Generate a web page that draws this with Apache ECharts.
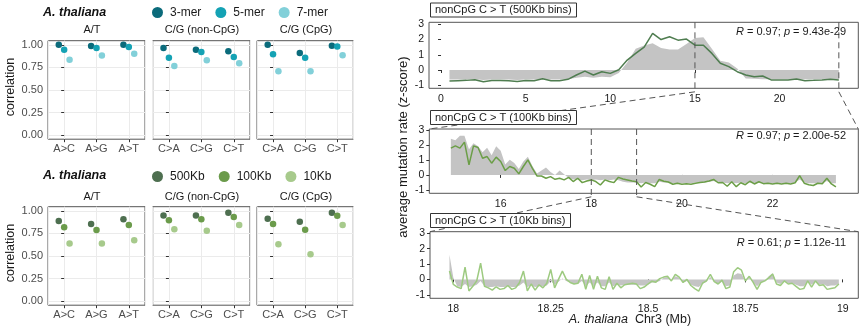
<!DOCTYPE html>
<html><head><meta charset="utf-8">
<script src="https://cdn.jsdelivr.net/npm/echarts@6/dist/echarts.min.js"></script>
<style>html,body{margin:0;padding:0;background:#fff}#c{width:865px;height:331px}</style>
</head><body><div id="c"></div>
<script>
const FONT = '"Liberation Sans", Arial, sans-serif';

// ---------- left: correlation panels ----------
const facets = ['A/T', 'C/G (non-CpG)', 'C/G (CpG)'];
const facetCats = [['A>C', 'A>G', 'A>T'], ['C>A', 'C>G', 'C>T'], ['C>A', 'C>G', 'C>T']];
const corrTicks = [0, 0.25, 0.5, 0.75, 1];

const kmerNames = ['3-mer', '5-mer', '7-mer'];
const mer3 = [[1.00, 0.985, 1.00], [0.963, 0.945, 0.927], [1.00, 0.908, 0.99]];
const mer5 = [[0.945, 0.965, 0.975], [0.857, 0.92, 0.865], [0.894, 0.857, 0.98]];
const mer7 = [[0.835, 0.88, 0.90], [0.765, 0.83, 0.795], [0.707, 0.707, 0.883]];

const binNames = ['500Kb', '100Kb', '10Kb'];
const bin500 = [[0.886, 0.853, 0.905], [0.949, 0.949, 0.978], [0.912, 0.879, 0.978]];
const bin100 = [[0.817, 0.787, 0.842], [0.894, 0.905, 0.93], [0.853, 0.79, 0.945]];
const bin10 = [[0.637, 0.637, 0.674], [0.795, 0.78, 0.842], [0.63, 0.52, 0.842]];

// ---------- right: mutation-rate tracks ----------
const ticks500 = [0, 5, 10, 15, 20];
const ticks100 = [16, 18, 20, 22];
const ticks10 = [18, 18.25, 18.5, 18.75, 19];
const zTicks = [-1, 0, 1, 2, 3];

const start500 = 0.5, step500 = 0.5;
const line500 = [-0.72,-0.70,-0.68,-0.64,-0.77,-0.69,-0.69,-0.70,-0.75,-0.69,-0.70,-0.57,-0.70,-0.70,-0.61,-0.33,-0.07,-0.33,-0.11,-0.22,0.02,0.65,1.09,1.5,2.4,2.0,2.18,1.96,2.03,1.63,1.63,1.09,0.44,0.22,-0.11,-0.33,-0.44,-0.39,-0.65,-0.65,-0.65,-0.59,-0.70,-0.68,-0.65,-0.61,-0.65];
const gray500 = [-0.62,-0.63,-0.62,-0.6,-0.65,-0.62,-0.62,-0.63,-0.65,-0.62,-0.63,-0.6,-0.63,-0.62,-0.6,-0.5,-0.45,-0.5,-0.45,-0.48,-0.2,0.5,1.4,1.6,1.75,1.45,1.35,1.35,1.7,2.1,2.15,1.4,0.6,0.5,0.1,-0.55,-0.58,-0.6,-0.6,-0.6,-0.6,-0.6,-0.6,-0.6,-0.6,-0.6,-0.6];

const start100 = 14.9, step100 = 0.1;
const line100 = [1.78,1.93,1.78,2.18,0.67,1.93,1.82,1.11,1.22,0.78,1.18,0.89,0.29,0.56,0.44,0.07,0.56,1.0,0.44,-0.07,-0.07,-0.22,-0.11,-0.29,-0.22,-0.33,-0.16,-0.44,-0.22,-0.51,-0.4,-0.33,-0.44,-0.67,-0.33,-0.44,-0.51,-0.16,
  -0.27,-0.33,-0.4,-0.45,-0.8,-0.5,-0.62,-0.78,-0.3,-0.42,-0.47,-0.62,-0.55,-0.62,-0.58,-0.62,-0.55,-0.5,-0.47,-0.4,-0.3,-0.52,-0.5,-0.75,-0.45,-0.78,-0.52,-0.65,-0.42,-0.6,-0.45,-0.58,-0.55,-0.6,-0.55,-0.6,-0.55,-0.6,-0.52,-0.05,-0.55,-0.65,-0.7,-0.55,-0.58,-0.22,-0.6,-0.8];
const gray100 = [2.4,2.3,2.6,2.6,1.7,2.1,1.9,1.5,1.8,1.3,1.9,1.6,0.7,1.0,0.8,0.4,0.9,1.2,0.6,0.1,0.3,0.5,0.2,0.0,0.3,0.05,-0.2,-0.3,-0.3,-0.35,-0.3,-0.35,-0.3,-0.35,-0.3,-0.35,-0.3,-0.35,
  -0.45,-0.5,-0.5,-0.5,-0.55,-0.5,-0.55,-0.55,-0.45,-0.5,-0.5,-0.55,-0.55,-0.55,-0.55,-0.55,-0.5,-0.5,-0.5,-0.45,-0.4,-0.5,-0.5,-0.55,-0.5,-0.55,-0.5,-0.55,-0.5,-0.55,-0.5,-0.55,-0.55,-0.55,-0.55,-0.55,-0.55,-0.55,-0.5,-0.3,-0.5,-0.55,-0.55,-0.55,-0.55,-0.4,-0.55,-0.55];

const start10 = 17.99, step10 = 0.01;
const line10 = [0.54,-0.33,-0.5,-0.6,0.8,-0.75,-0.45,-0.1,1.05,-0.45,-0.55,-0.7,-0.48,-0.65,-0.6,-0.4,-0.65,-0.55,-0.2,0.54,-0.75,-0.3,-0.7,-0.35,-0.55,-0.25,0.65,-0.55,0.0,0.54,0.0,-0.2,-0.3,-0.25,0.33,-0.65,0.25,-0.65,0.2,-0.55,-0.65,0.17,-0.65,-0.25,-0.55,-0.35,-0.3,
  -0.25,-0.3,-0.6,-0.5,-0.3,-0.12,-0.18,0.05,0.15,0.2,-0.1,0.33,0.15,-0.2,0.0,-0.4,-0.6,-0.76,-0.25,-0.1,0.33,-0.15,-0.3,-0.05,-0.6,-0.5,0.5,0.76,0.6,-0.1,0.2,-0.2,-0.65,-0.2,-0.1,0.1,0.35,-0.3,-0.4,-0.1,-0.3,-0.25,-0.45,-0.65,-0.6,-0.1,-0.5,-0.1,-0.4,-0.35,-0.65,-0.6,-0.55,-0.3];
const gray10 = [1.6,0.1,-0.45,-0.5,-0.3,-0.5,-0.45,-0.35,-0.1,-0.45,
  -0.5,-0.5,-0.45,-0.5,-0.5,-0.45,-0.5,-0.5,-0.4,-0.2,
  -0.5,-0.4,-0.5,-0.45,-0.45,-0.4,-0.1,-0.35,-0.15,0.05,
  -0.1,-0.2,-0.3,-0.3,-0.1,-0.45,-0.2,-0.45,-0.2,-0.45,
  -0.45,-0.2,-0.45,-0.35,-0.4,-0.35,-0.35,-0.35,-0.35,-0.4,
  -0.4,-0.35,-0.2,-0.2,-0.1,0.1,0.15,-0.05,0.2,0.1,
  -0.2,-0.1,-0.35,-0.45,-0.5,-0.3,-0.15,0.15,-0.15,-0.3,
  -0.15,-0.45,-0.4,0.25,0.4,0.35,-0.1,0.1,-0.2,-0.45,
  -0.2,-0.1,0.2,0.4,-0.2,-0.3,-0.1,-0.25,-0.25,-0.35,
  -0.45,-0.45,-0.15,-0.35,-0.15,-0.35,-0.3,-0.45,-0.4,-0.4,
  -0.3];

const boxLabels = ['nonCpG C > T (500Kb bins)', 'nonCpG C > T (100Kb bins)', 'nonCpG C > T (10Kb bins)'];
const statLabels = [['0.97', '9.43e-29'], ['0.97', '2.00e-52'], ['0.61', '1.12e-11']];
const zoom500 = [15, 23.5];
const zoom100 = [18, 19];

// ---------- styles / layout ----------
const kmerColors = ['#0b6b7b', '#14a2b4', '#82d0d9'];
const binColors = ['#4e6f50', '#6b9b4b', '#a7ca8c'];
const dodge = [-0.167, 0, 0.167];
const leftCols = [48, 152.7, 257];
const leftW = [97, 97.3, 96.3];
const rowTops = [40.7, 206.7];
const rowH = 98.5;

const grids = [], xAxes = [], yAxes = [], series = [];

const rows = [
  {names: kmerNames, vals: [mer3, mer5, mer7], colors: kmerColors},
  {names: binNames, vals: [bin500, bin100, bin10], colors: binColors}
];
rows.forEach((row, r) => {
  facets.forEach((fname, f) => {
    const g = grids.length;
    grids.push({left: leftCols[f], top: rowTops[r], width: leftW[f], height: rowH, show: true,
      backgroundColor: '#fff', borderColor: '#555', borderWidth: 1, outerBoundsMode: 'none', containLabel: false});
    xAxes.push({gridIndex: g, type: 'value', position: 'top', min: -0.5, max: 2.5, minInterval: 1, maxInterval: 1,
      axisLine: {show: false}, axisTick: {show: false}, axisLabel: {show: false},
      splitLine: {show: true, lineStyle: {color: '#ebebeb', width: 1}}});
    xAxes.push({gridIndex: g, type: 'category', position: 'bottom', data: facetCats[f], boundaryGap: true,
      axisLine: {show: false},
      axisTick: {show: true, alignWithLabel: true, interval: 0, length: 3, lineStyle: {color: '#333'}},
      axisLabel: {interval: 0, margin: 4, fontSize: 11, color: '#4d4d4d', fontFamily: FONT},
      splitLine: {show: false}});
    yAxes.push({gridIndex: g, type: 'value', min: -0.045, max: 1.045, minInterval: 0.25, maxInterval: 0.25,
      axisLine: {show: false},
      axisTick: {show: true, length: 3, customValues: corrTicks, lineStyle: {color: '#333'}},
      axisLabel: {show: f === 0, customValues: corrTicks, margin: 5, fontSize: 11, color: '#4d4d4d', fontFamily: FONT,
        formatter: v => Number(v).toFixed(2)},
      splitLine: {show: true, lineStyle: {color: '#ebebeb', width: 1}}});
    row.names.forEach((nm, s) => {
      series.push({type: 'scatter', name: nm, xAxisIndex: 2 * g, yAxisIndex: g, symbolSize: 6.5, z: 3,
        itemStyle: {color: row.colors[s], opacity: 1},
        data: row.vals[s][f].map((v, i) => [i + dodge[s], v])});
    });
  });
});

const rightPanels = [
  {rect: {left: 429, top: 22.3, width: 429.3, height: 66}, x: [-0.71, 24.65], xi: 5, xt: ticks500, y: [-1.2, 3.13],
    line: line500, gray: gray500, start: start500, step: step500, color: '#4f7d50', statY: 32},
  {rect: {left: 429.3, top: 129, width: 429, height: 64.3}, x: [14.424, 23.894], xi: 2, xt: ticks100, y: [-1.22, 3.05],
    line: line100, gray: gray100, start: start100, step: step100, color: '#6b9e47', statY: 136},
  {rect: {left: 430, top: 231.7, width: 428.3, height: 66.6}, x: [17.94, 19.04], xi: 0.25, xt: ticks10, y: [-1.23, 3.1],
    line: line10, gray: gray10, start: start10, step: step10, color: '#9dca80', statY: 243}
];
const rightGridIdx = [];
const rightXIdx = [];
rightPanels.forEach((p, k) => {
  const g = grids.length;
  rightGridIdx.push(g);
  grids.push(Object.assign({show: true, backgroundColor: '#fff', borderColor: '#555', borderWidth: 1,
    outerBoundsMode: 'none', containLabel: false}, p.rect));
  const xi = xAxes.length;
  rightXIdx.push(xi);
  xAxes.push({gridIndex: g, type: 'value', min: p.x[0], max: p.x[1], minInterval: p.xi, maxInterval: p.xi,
    axisLine: {show: false},
    axisTick: {show: true, length: 3, customValues: p.xt, lineStyle: {color: '#333'}},
    axisLabel: {customValues: p.xt, margin: 5, fontSize: 10.5, color: '#1a1a1a', fontFamily: FONT},
    splitLine: {show: false}});
  yAxes.push({gridIndex: g, type: 'value', min: p.y[0], max: p.y[1], minInterval: 1, maxInterval: 1,
    axisLine: {show: false},
    axisTick: {show: true, length: 3, customValues: zTicks, lineStyle: {color: '#333'}},
    axisLabel: {customValues: zTicks, margin: 5, fontSize: 10.5, color: '#1a1a1a', fontFamily: FONT},
    splitLine: {show: false}});
  const yi = yAxes.length - 1;
  const xs = i => +(p.start + i * p.step).toFixed(4);
  series.push({type: 'line', xAxisIndex: xi, yAxisIndex: yi, symbol: 'none', silent: true, z: 2,
    lineStyle: {width: 0, color: '#c4c4c4'}, areaStyle: {color: '#c4c4c4', opacity: 1},
    data: p.gray.map((v, i) => [xs(i), v])});
  series.push({type: 'line', xAxisIndex: xi, yAxisIndex: yi, symbol: 'none', silent: true, z: 3,
    lineStyle: {width: 1.5, color: p.color},
    data: p.line.map((v, i) => [xs(i), v])});
});

const legendBase = {orient: 'horizontal', padding: 0, itemWidth: 11, itemHeight: 11, itemGap: 14, icon: 'circle',
  selectedMode: false, textStyle: {fontSize: 12, color: '#1a1a1a', fontFamily: FONT, padding: [0, 0, 0, 2]}};

const option = {
  animation: false,
  backgroundColor: '#fff',
  textStyle: {fontFamily: FONT},
  title: boxLabels.map((t, i) => ({text: t, left: 430, top: [2.5, 110, 213][i], padding: [1, 5],
    borderWidth: 1, borderColor: '#333', backgroundColor: '#fff', z: 10,
    textStyle: {fontSize: 11, fontWeight: 'normal', color: '#1a1a1a', fontFamily: FONT, lineHeight: 13}})),
  legend: [
    Object.assign({}, legendBase, {data: kmerNames, left: 152, top: 6.5}),
    Object.assign({}, legendBase, {data: binNames, left: 152, top: 170.5})
  ],
  grid: grids, xAxis: xAxes, yAxis: yAxes, series: series
};

const chart = echarts.init(document.getElementById('c'));
chart.setOption(option);

// ---------- annotations (texts + zoom connectors) ----------
const gfx = [];
const txt = (x, y, text, extra, st) => gfx.push(Object.assign({type: 'text', x: x, y: y, z: 20,
  style: Object.assign({text: text, fill: '#1a1a1a', fontSize: 12, fontFamily: FONT,
    align: 'center', verticalAlign: 'middle', textAlign: 'center', textVerticalAlign: 'middle'}, st || {})}, extra || {}));

[13, 176].forEach(y => txt(43, y, 'A. thaliana', {}, {fontWeight: 'bold', fontStyle: 'italic', fontSize: 12.5, align: 'left', textAlign: 'left', fill: '#111'}));
[[11, 87], [11, 253]].forEach(([x, y]) => txt(x, y, 'correlation', {rotation: Math.PI / 2}, {fontSize: 12.5}));
const stripX = [92, 202, 306];
facets.forEach((f, i) => { txt(stripX[i], 30, f, {}, {fontSize: 11}); txt(stripX[i], 196.5, f, {}, {fontSize: 11}); });
txt(403, 147, 'average mutation rate (z-score)', {rotation: Math.PI / 2}, {fontSize: 13});
txt(630, 320, '{i|A. thaliana}  Chr3 (Mb)', {}, {fontSize: 12.5,
  rich: {i: {fontStyle: 'italic', fontSize: 12.5, fontFamily: FONT, fill: '#1a1a1a'}}});
statLabels.forEach((s, k) => txt(846, rightPanels[k].statY, '{i|R} = ' + s[0] + '; {i|p} = ' + s[1], {},
  {fontSize: 11, align: 'right', textAlign: 'right', rich: {i: {fontStyle: 'italic', fontSize: 11, fontFamily: FONT, fill: '#1a1a1a'}}}));

const px = (k, x, y) => chart.convertToPixel({xAxisIndex: rightXIdx[k], yAxisIndex: 6 + k}, [x, y]);
const dash = {stroke: '#555', lineWidth: 1, lineDash: [6, 4]};
const connect = (k, range) => {
  const p = rightPanels[k], q = rightPanels[k + 1];
  const bottom = px(k, p.x[0], p.y[0])[1];
  const topL = px(k + 1, q.x[0], q.y[1]);
  const topR = px(k + 1, q.x[1], q.y[1]);
  range.forEach((xv, j) => {
    const top = px(k, xv, p.y[1]);
    gfx.push({type: 'line', z: 15, shape: {x1: top[0], y1: top[1], x2: top[0], y2: bottom + 3.5}, style: dash});
    const end = j === 0 ? topL : topR;
    gfx.push({type: 'line', z: 1, shape: {x1: top[0], y1: bottom + 3.5, x2: end[0], y2: end[1]}, style: dash});
  });
};
connect(0, zoom500);
connect(1, zoom100);

chart.setOption({graphic: gfx});
</script></body></html>
